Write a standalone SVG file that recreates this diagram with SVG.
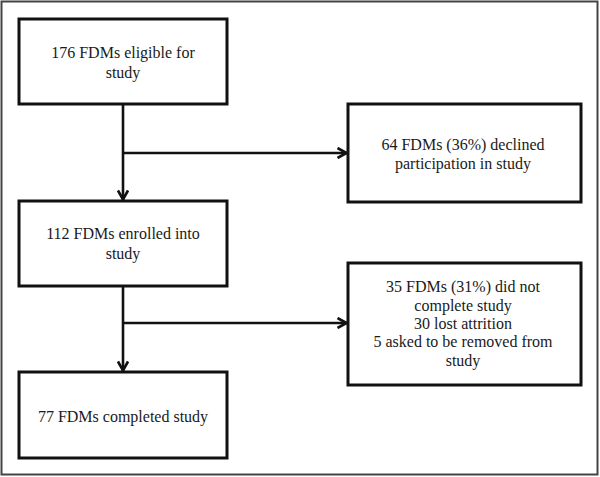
<svg xmlns="http://www.w3.org/2000/svg" width="600" height="477" viewBox="0 0 600 477">
<defs>
<marker id="ah" viewBox="0 0 12 12" refX="11" refY="6" markerWidth="12" markerHeight="12" orient="auto" markerUnits="userSpaceOnUse">
<path d="M1.5,1 L10.5,6 L1.5,11" fill="none" stroke="#111" stroke-width="2.6"/>
</marker>
</defs>
<rect x="0" y="0" width="600" height="477" fill="#fff"/>
<rect x="1.5" y="1.5" width="596" height="473" fill="none" stroke="#444" stroke-width="2"/>
<g id="connectors" fill="none" stroke="#111" stroke-width="2.6">
<path d="M123,104 V200" marker-end="url(#ah)"/>
<path d="M123,153 H347" marker-end="url(#ah)"/>
<path d="M123,286 V371" marker-end="url(#ah)"/>
<path d="M123,323 H347" marker-end="url(#ah)"/>
</g>
<g fill="#fff" stroke="#111" stroke-width="3">
<rect id="b1" x="19" y="19" width="208" height="85"/>
<rect id="b2" x="348" y="104" width="233" height="98"/>
<rect id="b3" x="19" y="201" width="208" height="85"/>
<rect id="b4" x="348" y="263" width="233" height="122"/>
<rect id="b5" x="19" y="372" width="208" height="86"/>
</g>
<g font-size="16" fill="#1a1a1a" text-anchor="middle" font-family="Liberation Serif">
<g id="n1"><text x="123" y="58">176 FDMs eligible for</text><text x="123" y="78">study</text></g>
<g id="n2"><text x="463" y="150">64 FDMs (36%) declined</text><text x="463" y="169">participation in study</text></g>
<g id="n3"><text x="123" y="239">112 FDMs enrolled into</text><text x="123" y="259">study</text></g>
<g id="n4"><text x="463" y="292">35 FDMs (31%) did not</text><text x="463" y="311">complete study</text><text x="463" y="329">30 lost attrition</text><text x="463" y="347">5 asked to be removed from</text><text x="463" y="366">study</text></g>
<g id="n5"><text x="123" y="422">77 FDMs completed study</text></g>
</g>
</svg>
